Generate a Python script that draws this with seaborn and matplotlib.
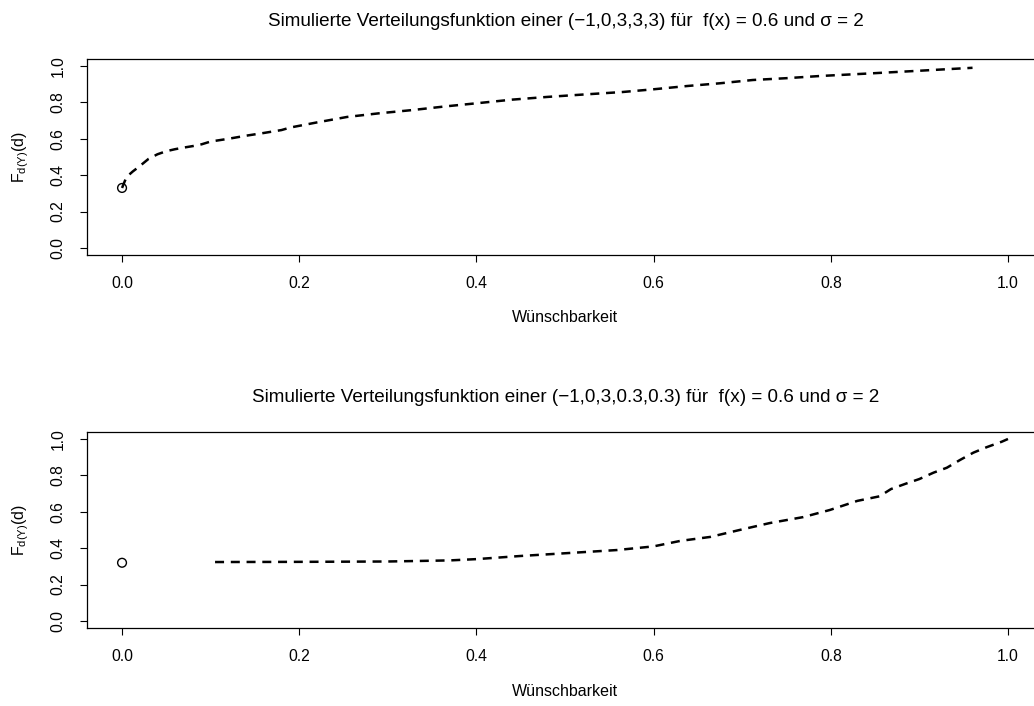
import matplotlib
matplotlib.use("Agg")
import matplotlib.pyplot as plt
import seaborn as sns
import pandas as pd

# ---- data ----
top_x = [0.0, 0.005, 0.012, 0.02, 0.03, 0.04, 0.05, 0.06, 0.07, 0.08, 0.09, 0.10, 0.12, 0.14,
         0.16, 0.18, 0.19, 0.22, 0.254, 0.29, 0.328, 0.365, 0.404, 0.44, 0.48, 0.52, 0.565,
         0.60, 0.638, 0.675, 0.712, 0.75, 0.788, 0.84, 0.893, 0.93, 0.96]
top_y = [0.33, 0.39, 0.42, 0.45, 0.49, 0.515, 0.532, 0.543, 0.552, 0.56, 0.57, 0.585, 0.60,
         0.617, 0.632, 0.648, 0.662, 0.69, 0.72, 0.74, 0.758, 0.778, 0.797, 0.815, 0.83,
         0.843, 0.857, 0.872, 0.89, 0.905, 0.923, 0.933, 0.945, 0.958, 0.972, 0.982, 0.99]
top_point_x = [0.0]
top_point_y = [0.33]

bot_x = [0.105, 0.2, 0.3, 0.336, 0.37, 0.40, 0.449, 0.506, 0.559, 0.60, 0.63, 0.664, 0.697,
         0.731, 0.769, 0.799, 0.83, 0.855, 0.868, 0.885, 0.90, 0.916, 0.931, 0.946, 0.961,
         0.976, 0.993, 1.0]
bot_y = [0.324, 0.325, 0.327, 0.33, 0.333, 0.34, 0.357, 0.374, 0.39, 0.41, 0.44, 0.462, 0.50,
         0.538, 0.571, 0.61, 0.66, 0.685, 0.725, 0.755, 0.78, 0.815, 0.842, 0.885, 0.925,
         0.955, 0.985, 1.0]
bot_point_x = [0.0]
bot_point_y = [0.32]

titles = ["Simulierte Verteilungsfunktion einer (\u22121,0,3,3,3) f\u00fcr  f(x) = 0.6 und \u03c3 = 2",
          "Simulierte Verteilungsfunktion einer (\u22121,0,3,0.3,0.3) f\u00fcr  f(x) = 0.6 und \u03c3 = 2"]
xlabel = "W\u00fcnschbarkeit"
ylabel = r"$\mathregular{F_{d(Y)}(d)}$"
ticks = [0.0, 0.2, 0.4, 0.6, 0.8, 1.0]
tick_labels = ["0.0", "0.2", "0.4", "0.6", "0.8", "1.0"]

sns.set_style("white")
plt.rcParams["font.family"] = ["Liberation Sans", "DejaVu Sans"]
plt.rcParams["mathtext.default"] = "regular"
for key in ["text.color", "axes.labelcolor", "xtick.color", "ytick.color"]:
    plt.rcParams[key] = "black"

W, H = 1034, 706
fig = plt.figure(figsize=(W / 100, H / 100), dpi=100)

left = 86.6 / W
width = 956.8 / W
height = 196.6 / H
axes_specs = [
    (1 - 255.3 / H, top_x, top_y, top_point_x, top_point_y, titles[0], 21),
    (1 - 628.3 / H, bot_x, bot_y, bot_point_x, bot_point_y, titles[1], 398),
]

for bottom, lx, ly, px, py, title, ty in axes_specs:
    ax = fig.add_axes([left, bottom, width, height])
    df_line = pd.DataFrame({"x": lx, "y": ly})
    df_pt = pd.DataFrame({"x": px, "y": py})
    sns.lineplot(data=df_line, x="x", y="y", ax=ax, sort=False, estimator=None,
                 color="black", linewidth=1.8, dashes=False)
    ax.lines[-1].set_dashes((3.6, 2.7))
    sns.scatterplot(data=df_pt, x="x", y="y", ax=ax, marker="o", s=40,
                    facecolor="none", edgecolor="black", linewidth=1.0)
    ax.set_xlim(-0.04, 1.04)
    ax.set_ylim(-0.04, 1.04)
    ax.set_xticks(ticks)
    ax.set_xticklabels(tick_labels)
    ax.set_yticks(ticks)
    ax.set_yticklabels(tick_labels, rotation=90, va="center")
    ax.tick_params(axis="both", direction="out", length=5, width=0.8, color="black",
                   labelsize=11.3, pad=10, bottom=True, left=True)
    for s in ax.spines.values():
        s.set_visible(True)
        s.set_color("black")
        s.set_linewidth(0.9)
    ax.set_xlabel(xlabel, fontsize=11.5)
    ax.xaxis.set_label_coords(0.5, (255.3 - 318) / 196.6)
    ax.xaxis.label.set_va("center")
    ax.set_ylabel(ylabel, fontsize=11.5)
    ax.yaxis.set_label_coords((21 - 86.6) / 956.8, 0.5)
    ax.yaxis.label.set_va("center")
    fig.text(566 / W, 1 - ty / H, title, ha="center", va="center", fontsize=13.6)

fig.savefig("out.png", dpi=100, facecolor="white")
